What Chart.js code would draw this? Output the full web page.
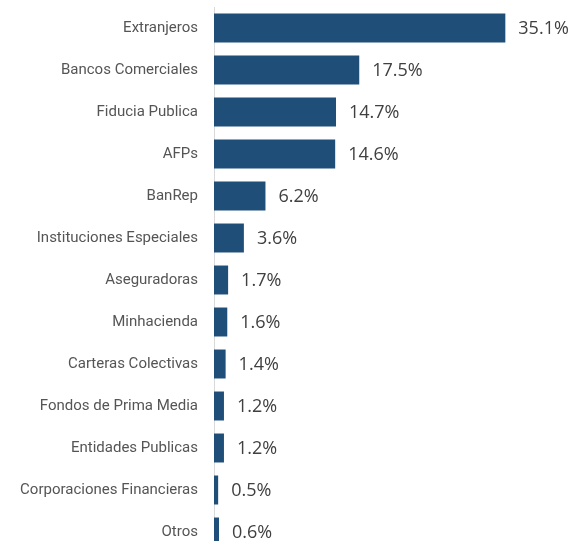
<!DOCTYPE html>
<html>
<head>
<meta charset="utf-8">
<script src="https://cdn.jsdelivr.net/npm/chart.js@4"></script>
<style>
  html, body { margin: 0; padding: 0; background: #fff; overflow: hidden; }
  #wrap { width: 573px; height: 553px; position: relative; }
</style>
</head>
<body>
<div id="wrap"><canvas id="holdersChart"></canvas></div>
<script>
// Tenedores de deuda (%)
const categories = [
    'Extranjeros', 'Bancos Comerciales', 'Fiducia Publica', 'AFPs', 'BanRep',
    'Instituciones Especiales', 'Aseguradoras', 'Minhacienda', 'Carteras Colectivas',
    'Fondos de Prima Media', 'Entidades Publicas', 'Corporaciones Financieras', 'Otros'
];
const shares = [35.1, 17.5, 14.7, 14.6, 6.2, 3.6, 1.7, 1.6, 1.4, 1.2, 1.2, 0.5, 0.6];

// draws the "xx.x%" next to each bar
const valueLabels = {
    id: 'valueLabels',
    afterDatasetsDraw(chart) {
        const ctx = chart.ctx;
        const meta = chart.getDatasetMeta(0);
        ctx.save();
        ctx.font = '18px "Open Sans", sans-serif';
        ctx.fillStyle = '#404040';
        ctx.textAlign = 'left';
        ctx.textBaseline = 'middle';
        meta.data.forEach((bar, i) => {
            ctx.fillText(shares[i].toFixed(1) + '%', bar.x + 13, bar.y + 1);
        });
        ctx.restore();
    }
};

const ctx = document.getElementById('holdersChart').getContext('2d');
const holdersChart = new Chart(ctx, {
    type: 'bar',
    data: {
        labels: categories,
        datasets: [{
            data: shares,
            backgroundColor: '#1f4e79',
            borderWidth: 0,
            categoryPercentage: 1,
            barPercentage: 0.69
        }]
    },
    options: {
        indexAxis: 'y',
        responsive: true,
        maintainAspectRatio: false,
        animation: false,
        layout: { padding: { top: 7, right: 27, bottom: 0, left: 0 } },
        plugins: {
            legend: { display: false },
            tooltip: { enabled: false }
        },
        scales: {
            x: {
                display: false,
                min: 0,
                max: 40
            },
            y: {
                afterFit(scale) {
                    scale.width = 214;
                    // tick padding is meant for the left gap only
                    scale.paddingTop = 0;
                    scale.paddingBottom = 0;
                },
                grid: { display: false, drawTicks: false },
                border: { display: true, color: '#d9d9d9', width: 1 },
                ticks: {
                    padding: 16,
                    color: '#555555',
                    font: { family: '"Liberation Sans Narrow", "Roboto", sans-serif', size: 15 }
                }
            }
        }
    },
    plugins: [valueLabels]
});
</script>
</body>
</html>
